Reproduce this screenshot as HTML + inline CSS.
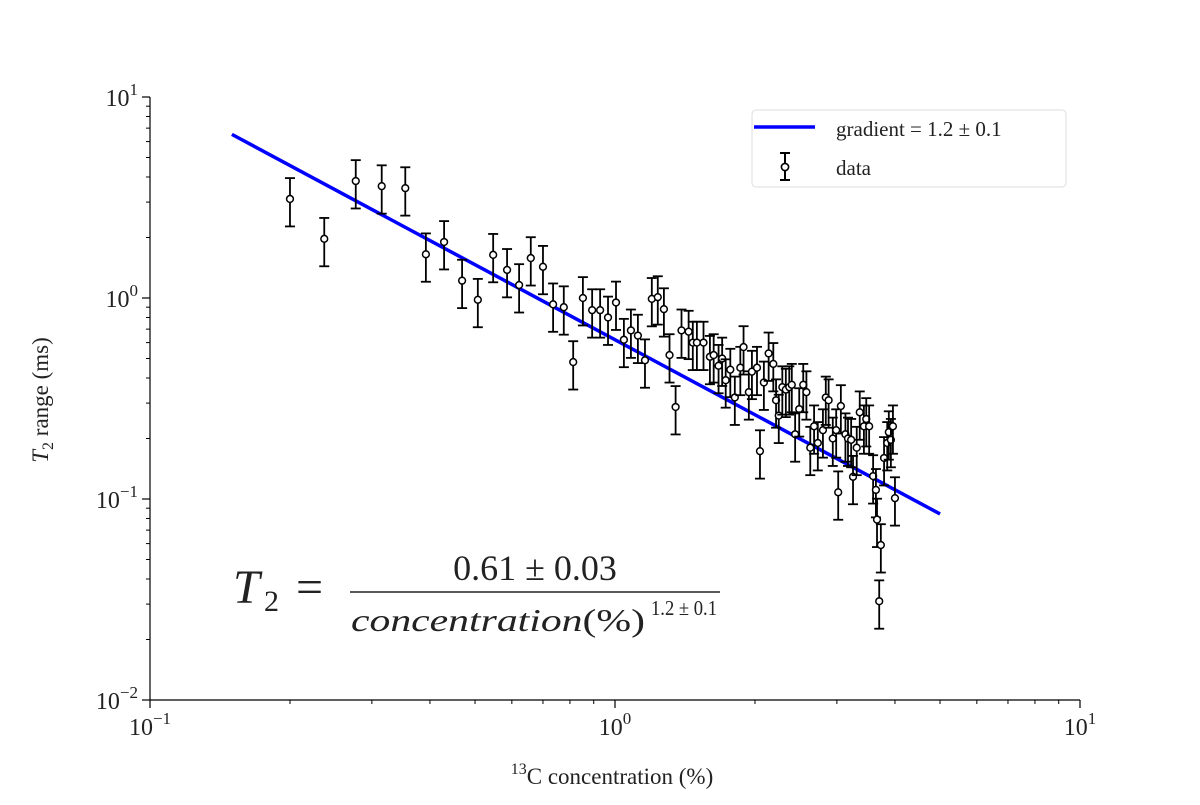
<!DOCTYPE html>
<html><head><meta charset="utf-8"><style>
html,body{margin:0;padding:0;background:#fff;}
svg text{font-family:"Liberation Serif",serif;fill:#222;}
</style></head><body>
<svg id="chart" width="1200" height="800" viewBox="0 0 1200 800" xmlns="http://www.w3.org/2000/svg">
<g id="axes"></g>
<g id="fit"></g>
<g id="pts"></g>
<text x="612" y="784" font-size="23" text-anchor="middle"><tspan dy="-10" font-size="16">13</tspan><tspan dy="10">C concentration (%)</tspan></text>
<text transform="translate(48,400) rotate(-90)" font-size="23" text-anchor="middle"><tspan font-style="italic">T</tspan><tspan font-size="16" dy="5">2</tspan><tspan dy="-5"> range (ms)</tspan></text>
<g>
<text x="233" y="603" font-size="48" font-style="italic">T</text>
<text x="264" y="611" font-size="30">2</text>
<text x="296" y="603" font-size="48">=</text>
<line x1="350" y1="592" x2="720" y2="592" stroke="#222" stroke-width="1.5"/>
<text x="535" y="580" font-size="36" text-anchor="middle">0.61 ± 0.03</text>
<text x="351" y="631" font-size="32" textLength="294" lengthAdjust="spacingAndGlyphs"><tspan font-style="italic">concentration</tspan>(%)</text>
<text x="651" y="615" font-size="21" textLength="66" lengthAdjust="spacingAndGlyphs">1.2 ± 0.1</text>
</g>
<g>
<rect x="752" y="110" width="314" height="77" rx="4" fill="#fff" stroke="#ddd" stroke-width="1"/>
<line x1="754" y1="127" x2="815" y2="127" stroke="#0000ff" stroke-width="3.5"/>
<text x="836" y="136" font-size="21">gradient = 1.2 ± 0.1</text>
<g stroke="#000" stroke-width="2">
<line x1="785" y1="153" x2="785" y2="180"/><line x1="780" y1="153" x2="790" y2="153"/><line x1="780" y1="180" x2="790" y2="180"/>
<circle cx="785" cy="167" r="3.6" fill="#fff" stroke-width="1.6"/></g>
<text x="836" y="175" font-size="21">data</text>
</g>
</svg>
<script>
const concentration=[0.2,0.237,0.277,0.315,0.354,0.392,0.429,0.469,0.507,0.547,0.586,0.622,0.659,0.70,0.736,0.776,0.813,0.853,0.893,0.929,0.966,1.005,1.045,1.082,1.12,1.16,1.20,1.236,1.274,1.35,1.31,1.39,1.44,1.47,1.50,1.55,1.60,1.63,1.67,1.70,1.73,1.77,1.81,1.86,1.89,1.94,1.97,2.02,2.05,2.09,2.14,2.19,2.22,2.25,2.29,2.33,2.37,2.40,2.44,2.49,2.54,2.58,2.63,2.68,2.73,2.80,2.84,2.88,2.94,2.99,3.02,3.06,3.13,3.17,3.22,3.25,3.31,3.36,3.43,3.47,3.52,3.59,3.64,3.66,3.70,3.73,3.79,3.85,3.88,3.92,3.96,4.0];
const t2Range=[3.11,1.97,3.82,3.6,3.52,1.65,1.9,1.22,0.98,1.64,1.38,1.16,1.58,1.43,0.93,0.90,0.48,1.0,0.87,0.87,0.80,0.95,0.62,0.69,0.65,0.49,0.99,1.01,0.88,0.287,0.52,0.69,0.68,0.60,0.60,0.60,0.51,0.52,0.46,0.50,0.39,0.44,0.32,0.45,0.57,0.34,0.43,0.45,0.173,0.38,0.53,0.47,0.31,0.26,0.36,0.35,0.36,0.37,0.21,0.28,0.37,0.34,0.18,0.23,0.19,0.22,0.32,0.31,0.20,0.22,0.108,0.29,0.21,0.20,0.197,0.129,0.18,0.27,0.23,0.25,0.23,0.13,0.111,0.079,0.031,0.059,0.16,0.19,0.215,0.197,0.23,0.101];
const errFraction=0.27;
const fitCoeff=0.62, fitExponent=1.24, fitRange=[0.15,5];
const xTickVals=[0.1,1,10], xTickExps=["−1","0","1"];
const yTickVals=[0.01,0.1,1,10], yTickExps=["−2","−1","0","1"];

const NS="http://www.w3.org/2000/svg";
const X0=150,X1=1080,Y0=700,Y1=97;
function sx(v){return X0+(Math.log10(v)+1)/2*(X1-X0);}
function sy(v){return Y0-(Math.log10(v)+2)/3*(Y0-Y1);}
function mk(tag,attrs,parent){const e=document.createElementNS(NS,tag);for(const k in attrs)e.setAttribute(k,attrs[k]);parent.appendChild(e);return e;}
const axes=document.getElementById('axes');
let l=mk('line',{x1:X0,y1:Y0,x2:X1,y2:Y0,stroke:'#000','stroke-width':1.2},axes);


l=mk('line',{x1:X0,y1:Y0,x2:X0,y2:Y1,stroke:'#000','stroke-width':1.2},axes);


xTickVals.forEach((v,i)=>{
  mk('line',{x1:sx(v),y1:Y0,x2:sx(v),y2:Y0+8,stroke:'#000','stroke-width':1.2},axes);
  const t=mk('text',{x:sx(v),y:Y0+35,'font-size':24,'text-anchor':'middle'},axes);
  
  
  t.innerHTML='10<tspan dy="-11" font-size="17">'+xTickExps[i]+'</tspan>';
  if(i<xTickVals.length-1)for(let m=2;m<10;m++)mk('line',{x1:sx(v*m),y1:Y0,x2:sx(v*m),y2:Y0+4,stroke:'#000','stroke-width':1},axes);
});
yTickVals.forEach((v,i)=>{
  mk('line',{x1:X0-8,y1:sy(v),x2:X0,y2:sy(v),stroke:'#000','stroke-width':1.2},axes);
  const t=mk('text',{x:X0-12,y:sy(v)+9,'font-size':24,'text-anchor':'end'},axes);
  
  
  t.innerHTML='10<tspan dy="-11" font-size="17">'+yTickExps[i]+'</tspan>';
  if(i<yTickVals.length-1)for(let m=2;m<10;m++)mk('line',{x1:X0-4,y1:sy(v*m),x2:X0,y2:sy(v*m),stroke:'#000','stroke-width':1},axes);
});
const fit=document.getElementById('fit');
const fl=mk('line',{x1:sx(fitRange[0]),y1:sy(fitCoeff*Math.pow(fitRange[0],-fitExponent)),x2:sx(fitRange[1]),y2:sy(fitCoeff*Math.pow(fitRange[1],-fitExponent)),stroke:'#0000ff','stroke-width':3.5},fit);


const pts=document.getElementById('pts');
concentration.forEach((c,i)=>{
  const y=t2Range[i],e=y*errFraction,x=sx(c);
  const g=mk('g',{stroke:'#000','stroke-width':1.8},pts);
  
  
  const yt=sy(y+e),yb=sy(y-e);
  mk('line',{x1:x,y1:yt,x2:x,y2:yb},g);
  mk('line',{x1:x-5,y1:yt,x2:x+5,y2:yt},g);
  mk('line',{x1:x-5,y1:yb,x2:x+5,y2:yb},g);
  mk('circle',{cx:x,cy:sy(y),r:3.4,fill:'#fff','stroke-width':1.5},g);
});
</script>
</body></html>
